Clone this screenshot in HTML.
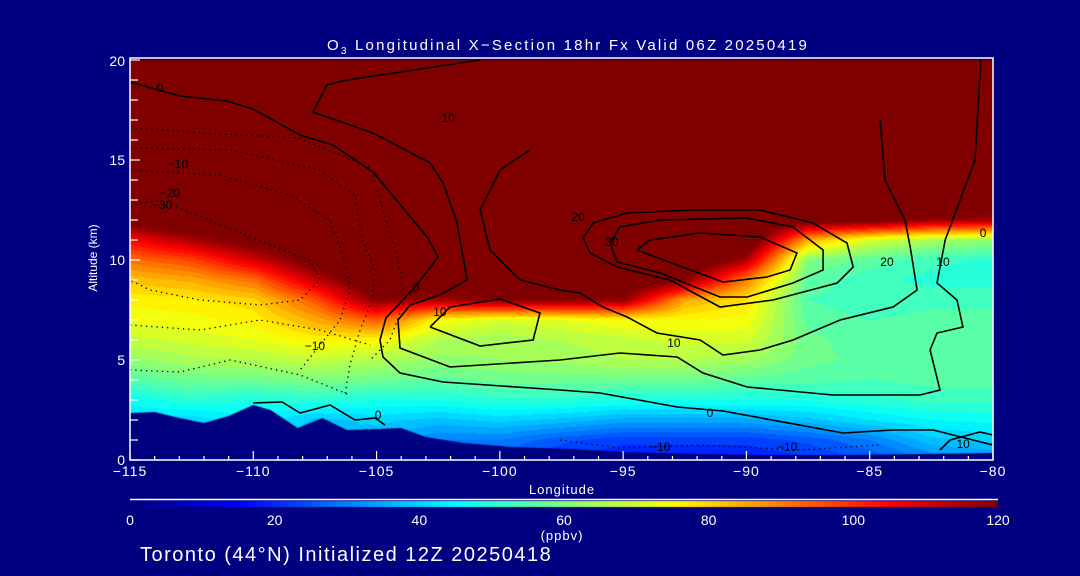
<!DOCTYPE html>
<html><head><meta charset="utf-8">
<style>
html,body{margin:0;padding:0;background:#000080;}
#wrap{position:relative;width:1080px;height:576px;background:#000080;overflow:hidden;font-family:"Liberation Sans",sans-serif;color:#fff;}
canvas{position:absolute;left:0;top:0;}
svg{position:absolute;left:0;top:0;}
</style></head>
<body>
<div id="wrap">
<canvas id="field" width="1080" height="576"></canvas>
<svg id="ov" width="1080" height="576"></svg>
</div>
<script>
// ---- data ----
const lons = [-115,-112.5,-110,-107.5,-105,-102.5,-100,-97.5,-95,-92.5,-90,-87.5,-85,-82.5,-80];
const alts = [0,1,2,3,4,5,6,7,8,9,10,11,12,13,14,15,16,17,18,19,20];
const colLow = [
 [40,40,42,46,55,62,68,73,76,82,92,105,125],
 [38,38,40,50,58,65,70,74,77,85,97,115,130],
 [45,45,45,48,58,66,72,76,80,92,110,125,130],
 [36,36,38,50,60,68,76,85,95,112,125,130],
 [36,36,40,48,58,66,75,95,120,130],
 [28,30,38,48,56,62,66,75,115,130],
 [25,30,40,50,58,63,64,70,120,130],
 [20,25,38,50,58,64,66,72,120,130],
 [18,22,35,48,58,66,68,75,118,130],
 [18,22,35,48,58,66,70,75,85,120,130],
 [18,22,35,48,56,64,70,74,78,90,115,130],
 [20,25,38,48,55,58,58,56,54,56,60,85,125,130],
 [24,30,42,50,54,56,55,54,52,52,56,70,125,130],
 [30,38,45,52,55,56,56,55,53,50,52,65,118,130],
 [32,40,46,52,55,56,56,55,53,50,50,62,115,130]
];
const upperValue = 130;
const terrainLon = [-115,-114,-113,-112,-111,-110,-109.3,-108.2,-107.2,-106.2,-105,-104,-103,-101.5,-99.5,-97,-95,-92,-89,-86,-83,-80];
const terrainAlt = [2.35,2.4,2.1,1.85,2.2,2.75,2.5,1.6,2.1,1.5,1.55,1.6,1.15,0.85,0.65,0.55,0.4,0.3,0.25,0.25,0.3,0.35];
const xTicks = [-115,-110,-105,-100,-95,-90,-85,-80];
const yTicks = [0,5,10,15,20];
const cbTicks = [0,20,40,60,80,100,120];
const contours = [
 {s:'solid',p:[[-115,18.9],[-112.97,18.2],[-111.07,17.95],[-110.01,17.55],[-108.1,16.25],[-106.77,15.75],[-105.14,14.4],[-102.95,11.15],[-102.5,10.15],[-103.44,8.65],[-104.62,7.1],[-104.86,6.0],[-104.74,5.15],[-104.05,4.35],[-102.3,3.9],[-97.56,3.5],[-95.94,3.35],[-92.81,2.65],[-90.95,2.45],[-86.08,1.35],[-84.05,1.5],[-82.43,1.5],[-80,0.75]]},
 {s:'solid',p:[[-100.8,20],[-106.2,19],[-107.01,18.75],[-107.58,17.4],[-105.14,16.35],[-102.83,14.85],[-102.3,13.85],[-101.74,11.85],[-101.33,9.0],[-102.43,8.25],[-103.64,7.75],[-104.13,7.0],[-104.05,5.6],[-102.02,4.65],[-97.56,5.0],[-95.13,5.35],[-92.81,5.15],[-91.76,4.35],[-89.97,3.65],[-86.49,3.25],[-82.96,3.25],[-82.15,3.5],[-82.55,5.5],[-82.27,6.35],[-81.22,6.65],[-81.46,8.0],[-82.27,8.85],[-81.94,11.0],[-80.73,15],[-80.5,20]]},
 {s:'solid',p:[[-102.83,6.65],[-102.02,7.65],[-99.99,8.05],[-98.37,7.35],[-98.65,6.0],[-100.8,5.7],[-102.83,6.65]]},
 {s:'solid',p:[[-94.44,10.5],[-93.91,11],[-91.88,11.35],[-89.45,11.15],[-87.95,10.35],[-88.23,9.5],[-89.17,9.15],[-90.95,8.9],[-94.44,10.5]]},
 {s:'solid',p:[[-95.53,10.85],[-95.13,11.65],[-93.5,12],[-89.97,12.1],[-88.11,11.65],[-86.89,10.5],[-86.89,9.5],[-88.11,8.85],[-89.97,8.15],[-91.07,8.15],[-93.5,9.35],[-95.25,9.9],[-95.53,10.85]]},
 {s:'solid',p:[[-96.63,11.1],[-96.34,10.35],[-95.25,9.65],[-93.1,9.0],[-91.07,7.65],[-88.92,8.0],[-86.32,8.85],[-85.67,9.65],[-85.92,10.85],[-87.3,11.85],[-89.45,12.5],[-92.17,12.5],[-94.85,12.35],[-96.22,11.85],[-96.63,11.1]]},
 {s:'solid',p:[[-84.58,17],[-84.38,14],[-83.57,12],[-83.36,10.65],[-83.08,8.5],[-84.05,7.65],[-86.2,7.0],[-88.11,6.0],[-89.45,5.5],[-90.95,5.25],[-91.88,6.0],[-93.63,6.35],[-94.84,7.15],[-95.82,7.65],[-96.75,8.35],[-97.56,8.5],[-99.18,9.0],[-100.4,10.5],[-100.8,12.5],[-99.99,14.5],[-98.78,15.5]]},
 {s:'solid',p:[[-110.01,2.85],[-108.83,2.9],[-108.1,2.35],[-106.89,2.75],[-105.87,2.0],[-105.06,2.1],[-104.66,1.75]]},
 {s:'solid',p:[[-82.15,0.5],[-81.74,1.0],[-80.53,1.4],[-80,1.25]]},
 {s:'dot',p:[[-115,16.6],[-111.35,16.3],[-108.1,16.1],[-105.26,14.6],[-104.86,13],[-104.13,10],[-103.85,8],[-104.46,6],[-105.26,5]]},
 {s:'dot',p:[[-115,15.6],[-110.94,15.5],[-107.3,14.5],[-105.87,13.25],[-105.59,11],[-105.06,9.5],[-105.18,8],[-105.67,6.5],[-106.08,4.75],[-106.28,3.25]]},
 {s:'dot',p:[[-115,14.5],[-111.35,14.25],[-108.51,13.25],[-106.89,12],[-106.28,10],[-106.08,8.5],[-106.48,7],[-107.3,5.75],[-108.1,4.5]]},
 {s:'dot',p:[[-115,12.75],[-113.78,13],[-111.76,12],[-109.32,10.75],[-107.7,10],[-107.3,9],[-108.1,8],[-109.73,7.75],[-112.16,8],[-114.19,8.5],[-115,9]]},
 {s:'dot',p:[[-115,6.75],[-112.16,6.5],[-109.73,7],[-107.3,6.5],[-105.26,5.75]]},
 {s:'dot',p:[[-115,4.5],[-112.97,4.4],[-110.94,5],[-108.1,4.25],[-106.08,3.25]]},
 {s:'dot',p:[[-97.56,1],[-95.13,0.6],[-91.88,0.75],[-87.82,0.5],[-84.58,0.75]]}
];
const clabels = [
 ['0',-113.78,18.6],['-10',-113.05,14.8],['-20',-113.38,13.35],['-30',-113.7,12.75],['10',-102.1,17.1],
 ['-10',-107.5,5.7],['0',-103.4,8.6],['10',-102.43,7.4],['20',-96.83,12.15],['30',-95.45,10.9],
 ['10',-92.94,5.85],['0',-91.48,2.35],['20',-84.3,9.9],['10',-82.03,9.9],['0',-80.4,11.35],
 ['-10',-93.5,0.65],['-10',-88.35,0.65],['10',-81.21,0.8],['0',-104.94,2.25]
];
// ---- layout ----
const X0=130,X1=993,Y0=60,Y1=460;
const xs = v => X0 + (v+115)/35*(X1-X0);
const ys = v => Y1 - v/20*(Y1-Y0);
const cl = v => Math.max(0,Math.min(1,v));
function jet(v){const t=cl(v/120);return [cl(1.5-Math.abs(4*t-3)),cl(1.5-Math.abs(4*t-2)),cl(1.5-Math.abs(4*t-1))].map(c=>Math.round(c*255));}
const grid = colLow.map(c=>alts.map((a,i)=> i<c.length?c[i]:upperValue));
function val(lon,alt){
  let fi=(lon-lons[0])/2.5; fi=Math.max(0,Math.min(lons.length-1.0001,fi));
  let fj=alt; fj=Math.max(0,Math.min(alts.length-1.0001,fj));
  const i=Math.floor(fi),j=Math.floor(fj),u=fi-i,w=fj-j;
  return (grid[i][j]*(1-u)+grid[i+1][j]*u)*(1-w)+(grid[i][j+1]*(1-u)+grid[i+1][j+1]*u)*w;
}
// ---- field ----
const cv=document.getElementById('field'),ctx=cv.getContext('2d');
const W=X1-X0,H=Y1-Y0,img=ctx.createImageData(W,H);
for(let py=0;py<H;py++){for(let px=0;px<W;px++){
  const lon=-115+(px+0.5)/W*35,alt=20-(py+0.5)/H*20;
  let v=val(lon,alt); v=Math.floor(v/3)*3+1.5;
  const c=jet(v),k=(py*W+px)*4;img.data[k]=c[0];img.data[k+1]=c[1];img.data[k+2]=c[2];img.data[k+3]=255;}}
ctx.putImageData(img,X0,Y0);
ctx.fillStyle='#000080';ctx.beginPath();ctx.moveTo(xs(terrainLon[0]),Y1);
terrainLon.forEach((l,i)=>ctx.lineTo(xs(l),ys(terrainAlt[i])));
ctx.lineTo(xs(terrainLon[terrainLon.length-1]),Y1);ctx.closePath();ctx.fill();
const cbx0=130,cbx1=998;
for(let x=cbx0;x<cbx1;x++){const c=jet((x-cbx0)/(cbx1-cbx0)*120);ctx.fillStyle=`rgb(${c[0]},${c[1]},${c[2]})`;ctx.fillRect(x,501,1,6);}
// ---- overlay ----
const NS='http://www.w3.org/2000/svg',sv=document.getElementById('ov');
function mk(t,a,parent){const e=document.createElementNS(NS,t);for(const k in a)e.setAttribute(k,a[k]);(parent||sv).appendChild(e);return e;}
contours.forEach((c,ci)=>{
  const e=mk('polyline',{points:c.p.map(q=>xs(q[0]).toFixed(1)+','+ys(q[1]).toFixed(1)).join(' '),fill:'none',stroke:'#000','stroke-width':c.s==='solid'?1.6:1.3,'stroke-dasharray':c.s==='solid'?'none':'1.3 4'});
  
  
});
clabels.forEach(l=>{
  const e=mk('text',{x:xs(l[1]),y:ys(l[2])+4,fill:'#000','font-size':12,'text-anchor':'middle'});e.textContent=l[0].replace('-','\u2212');
  
  
});
const box=mk('rect',{x:X0,y:58,width:X1-X0,height:Y1-58,fill:'none',stroke:'#fff','stroke-width':1.5});


for(let v=-115;v<=-80;v++){const major=v%5===0;mk('line',{x1:xs(v),x2:xs(v),y1:Y1,y2:Y1-(major?9:4),stroke:'#fff','stroke-width':1.2});}
for(let a=0;a<=20;a++){const major=a%5===0;mk('line',{x1:X0,x2:X0+(major?10:8),y1:ys(a),y2:ys(a),stroke:'#fff','stroke-width':1.2});}
xTicks.forEach(v=>{const e=mk('text',{x:xs(v),y:476,fill:'#fff','font-size':14,'text-anchor':'middle','letter-spacing':1});e.textContent=(v<0?'\u2212':'')+Math.abs(v);
  
  });
yTicks.forEach(v=>{const e=mk('text',{x:125,y:Math.max(ys(v)+5,66),fill:'#fff','font-size':14,'text-anchor':'end'});e.textContent=v;
  
  });
mk('line',{x1:130,x2:998,y1:499.5,y2:499.5,stroke:'#fff','stroke-width':1.5});
cbTicks.forEach(v=>{const e=mk('text',{x:130+v/120*(998-130),y:525,fill:'#fff','font-size':14,'text-anchor':'middle'});e.textContent=v;
  
  });
function txt(name,s,a){const e=mk('text',Object.assign({fill:'#fff'},a));e.textContent=s;
  
  return e;}
const tt=mk('text',{x:327,y:50,fill:'#fff','font-size':15,'letter-spacing':'2.2'});


tt.setAttribute('xml:space','preserve');
tt.innerHTML='O<tspan dy="4" font-size="10">3</tspan><tspan dy="-4"> Longitudinal X\u2212Section 18hr  Fx Valid 06Z 20250419</tspan>';
txt('x-axis-title','Longitude',{x:562,y:494,'font-size':13,'text-anchor':'middle','letter-spacing':1});
txt('y-axis-title','Altitude (km)',{x:0,y:0,'font-size':12,'text-anchor':'middle',transform:'translate(97,258) rotate(-90)'});
txt('colorbar-units','(ppbv)',{x:562,y:540,'font-size':13,'text-anchor':'middle','letter-spacing':1});
txt('footer-caption','Toronto (44\u00B0N) Initialized 12Z 20250418',{x:140,y:561,'font-size':20,'letter-spacing':'1.5'});
</script>
</body></html>
